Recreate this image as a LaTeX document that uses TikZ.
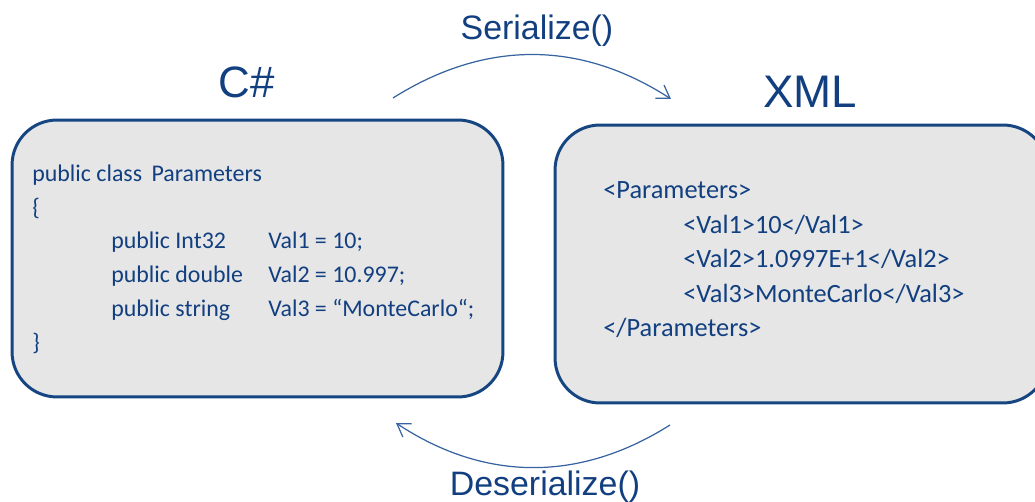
\documentclass[tikz,border=0pt]{standalone}
\usepackage{fontspec}
\setmainfont{Carlito}
\newfontfamily\titlefont{Liberation Sans}
\usetikzlibrary{arrows.meta}
\definecolor{inkblue}{RGB}{18,63,128}
\definecolor{edgeblue}{RGB}{22,70,130}
\definecolor{panelgray}{RGB}{230,230,230}
\definecolor{arcblue}{RGB}{55,100,160}
\tikzset{
  panel/.style={draw=edgeblue, line width=1.7pt, fill=panelgray, rounded corners=0.9cm,
    rectangle, inner sep=0pt},
  codeL/.style={anchor=base west, inner sep=0pt, text=inkblue, font=\fontsize{13.6pt}{16pt}\selectfont},
  codeR/.style={anchor=base west, inner sep=0pt, text=inkblue, font=\fontsize{15pt}{18pt}\selectfont},
  heading/.style={anchor=base, inner sep=0pt, text=inkblue, font=\titlefont\fontsize{25pt}{28pt}\selectfont},
  opname/.style={anchor=base, inner sep=0pt, text=inkblue, font=\titlefont\fontsize{19.3pt}{22pt}\selectfont},
  flow/.style={draw=arcblue, line width=0.7pt, -{Straight Barb[length=7pt,width=9pt]}},
}
\begin{document}
\begin{tikzpicture}[x=0.02cm, y=-0.02cm]
\useasboundingbox (0,0) rectangle (1035,502);
\clip (0,0) rectangle (1035,502);

% code panels
\node[panel, minimum width=9.82cm, minimum height=5.54cm] (cs) at (257.5,258.5) {};
\node[panel, minimum width=9.86cm, minimum height=5.56cm] (xml) at (801.5,264) {};

% headings
\node[heading] (csT) at (246.5,98) {C\#};
\node[heading, font=\titlefont\fontsize{26pt}{29pt}\selectfont] (xmlT) at (810,108) {XML};

% C# class
\node[codeL] (c1) at (32,182) {public class\ \,Parameters};
\node[codeL] (c2) at (32,216) {\{};
\node[codeL] (c3a) at (111,249) {public Int32};
\node[codeL] (c3b) at (268,249) {Val1 = 10;};
\node[codeL] (c4a) at (111,283) {public double};
\node[codeL] (c4b) at (268,283) {Val2 = 10.997;};
\node[codeL] (c5a) at (111,317) {public string};
\node[codeL] (c5b) at (268,317) {Val3 = “MonteCarlo“;};
\node[codeL] (c6) at (32,351) {\}};

% XML document
\node[codeR] (x1) at (603,199) {<Parameters>};
\node[codeR] (x2) at (683,233.5) {<Val1>10</Val1>};
\node[codeR] (x3) at (683,268) {<Val2>1.0997E+1</Val2>};
\node[codeR] (x4) at (683,302.5) {<Val3>MonteCarlo</Val3>};
\node[codeR] (x5) at (603,337) {</Parameters>};

% operation labels
\node[opname] (ser) at (537,40) {Serialize()};
\node[opname] (des) at (545,496) {Deserialize()};

% arcs between the panels
\coordinate (s0) at (393,98);
\coordinate (s1) at (671,99);
\coordinate (d0) at (670,425);
\coordinate (d1) at (396,423);
\draw[flow] (s0) .. controls (485,40) and (580,40) .. (s1);
\draw[flow] (d0) .. controls (580,482) and (485,482) .. (d1);
\end{tikzpicture}
\end{document}
